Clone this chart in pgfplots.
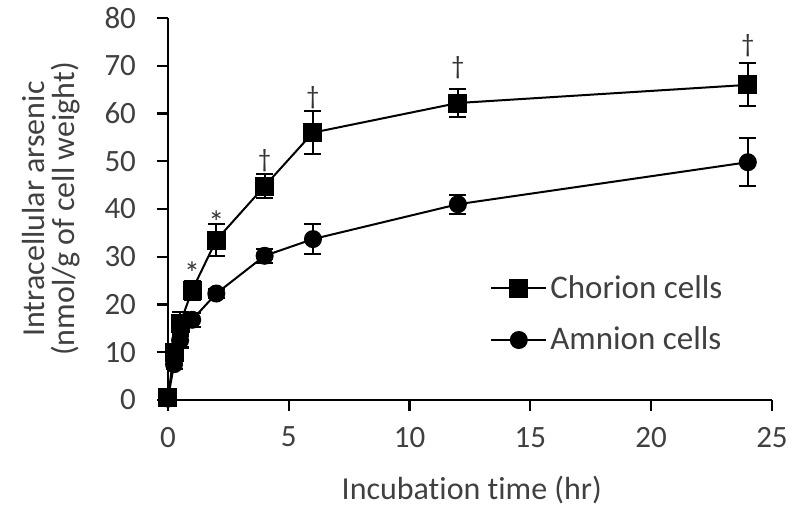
\documentclass[border=0pt]{standalone}
\usepackage{fontspec}
\setmainfont{Carlito}[Ligatures={NoCommon}]
\usepackage{pgfplots}
\pgfplotsset{compat=1.18}
\definecolor{txt}{HTML}{404040}
\pgfplotstableread{
x y e
0 0.5 0.5
0.25 10 1.5
0.5 16 2.5
1 23 2
2 33.5 3.4
4 44.8 2.5
6 56 4.5
12 62.2 3
24 66 4.5
}\chorion
\pgfplotstableread{
x y e
0 0.3 0.3
0.25 7.5 1
0.5 12.5 1.5
1 16.8 1.5
2 22.3 1
4 30.2 1.5
6 33.7 3.2
12 41 2
24 49.8 5
}\amnion
\begin{document}
\begin{tikzpicture}
\path[use as bounding box] (0,0) rectangle (400pt,257.5pt);
\begin{axis}[
  at={(84pt,57.5pt)}, anchor=south west,
  scale only axis, width=302pt, height=191pt,
  xmin=0, xmax=25, ymin=0, ymax=80,
  axis lines=left, axis line style={-, line width=1.1pt},
  clip=false,
  xtick={0,5,...,25}, ytick={0,10,...,80},
  tick align=outside, major tick length=5.5pt,
  tick style={line width=1.1pt, black},
  every tick label/.append style={font=\fontsize{15.5}{19}\selectfont, text=txt},
  yticklabel style={xshift=-7pt},
  xticklabel style={yshift=-4.5pt},
  /pgf/number format/assume math mode=true,
  xlabel={Incubation time (hr)},
  ylabel={Intracellular arsenic\\(nmol/g of cell weight)},
  xlabel style={at={(axis description cs:0.503,-0.236)}, anchor=center, font=\fontsize{16}{19}\selectfont, text=txt},
  ylabel style={at={(axis description cs:-0.193,0.5)}, anchor=center, align=center, font=\fontsize{16}{15}\selectfont, text=txt},
  legend style={draw=none, fill=none, at={(0.533,0.225)}, anchor=west, inner sep=0pt,
    font=\fontsize{16.5}{19}\selectfont, text=txt, row sep=10pt,
    nodes={inner sep=1.5pt}},
  legend cell align=left,
  legend image code/.code={\draw[mark repeat=2,mark phase=2] plot coordinates {(0pt,0pt) (13.75pt,0pt) (27.5pt,0pt)};},
]
\addplot[black, line width=1pt, mark=square*, mark size=4.25pt, mark options={solid},
  error bars/.cd, y dir=both, y explicit,
  error bar style={line width=1.1pt, black},
  error mark=-,
  error mark options={rotate=90, mark size=4.25pt, line width=1.1pt, black}]
  table[x=x, y=y, y error=e] {\chorion};
\addlegendentry{Chorion cells}
\addplot[black, line width=1pt, mark=*, mark size=4pt, mark options={solid},
  error bars/.cd, y dir=both, y explicit,
  error bar style={line width=1.1pt, black},
  error mark=-,
  error mark options={rotate=90, mark size=4.25pt, line width=1.1pt, black}]
  table[x=x, y=y, y error=e] {\amnion};
\addlegendentry{Amnion cells}
\node[font=\fontsize{16}{19}\selectfont, text=black!80] at (axis cs:1,26.6) {*};
\node[font=\fontsize{16}{19}\selectfont, text=black!80] at (axis cs:2,37.2) {*};
\node[font=\fontsize{13}{15}\selectfont, text=black!80, inner sep=0pt] at (axis cs:4,50.2) {†};
\node[font=\fontsize{13}{15}\selectfont, text=black!80, inner sep=0pt] at (axis cs:6,63.4) {†};
\node[font=\fontsize{13}{15}\selectfont, text=black!80, inner sep=0pt] at (axis cs:12,69.6) {†};
\node[font=\fontsize{13}{15}\selectfont, text=black!80, inner sep=0pt] at (axis cs:24,74.3) {†};
\end{axis}
\end{tikzpicture}
\end{document}
